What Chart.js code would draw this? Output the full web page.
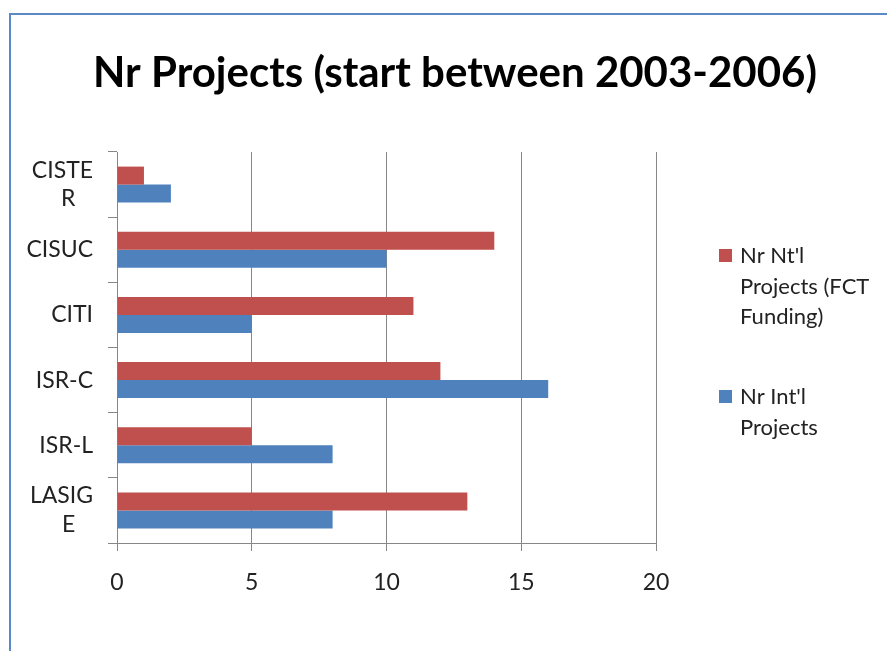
<!DOCTYPE html>
<html>
<head>
<meta charset="utf-8">
<script src="https://cdn.jsdelivr.net/npm/chart.js@4"></script>
<style>
  html, body { margin: 0; padding: 0; background: #fff; overflow: hidden; width: 887px; height: 651px; }
  #frame { position: absolute; left: 9px; top: 13px; width: 900px; height: 700px;
           border-left: 2px solid #5b88c6; border-top: 2px solid #5b88c6; }
  #chart { position: absolute; left: 9px; top: 0; }
</style>
</head>
<body>
<div id="frame"></div>
<canvas id="chart" width="892" height="651"></canvas>
<script>
// categories, top to bottom (trailing spaces keep the wrapped letter centred)
const centres = [["CISTE", "R   "], "CISUC", "CITI", "ISR-C", "ISR-L", ["LASIG", "E   "]];
const ntlProjects = [1, 14, 11, 12, 5, 13];
const intlProjects = [2, 10, 5, 16, 8, 8];
const seriesNames = ["Nr Nt'l Projects (FCT Funding)", "Nr Int'l Projects"];
// legend wraps like the original
const legendLines = [["Nr Nt'l", "Projects (FCT", "Funding)"], ["Nr Int'l", "Projects"]];
const xTicks = [0, 5, 10, 15, 20];
const titleText = "Nr Projects (start between 2003-2006)";

const gray = "#878787";
const font = "Lato, 'Open Sans', sans-serif";

// title centred on the whole chart object, legend wrapped on the right
const decorations = {
  id: "decorations",
  afterDraw(chart) {
    const ctx = chart.ctx;
    ctx.save();
    ctx.font = "bold 42px " + font;
    ctx.fillStyle = "#000";
    ctx.textAlign = "center";
    ctx.textBaseline = "alphabetic";
    ctx.fillText(titleText, 446, 87);

    const lineH = 30.5;
    const tops = [256, 397];
    ctx.font = "22px " + font;
    ctx.textAlign = "left";
    ctx.textBaseline = "middle";
    chart.data.datasets.forEach((ds, i) => {
      const y0 = tops[i];
      ctx.fillStyle = ds.backgroundColor;
      ctx.fillRect(710, y0 - 7, 13, 13);
      ctx.fillStyle = "#222";
      legendLines[i].forEach((t, j) => ctx.fillText(t, 731, y0 + j * lineH));
    });
    ctx.restore();
  }
};

new Chart(document.getElementById("chart"), {
  type: "bar",
  data: {
    labels: centres,
    datasets: [
      { label: seriesNames[0], data: ntlProjects, backgroundColor: "#c0504d" },
      { label: seriesNames[1], data: intlProjects, backgroundColor: "#4f81bd" }
    ]
  },
  options: {
    indexAxis: "y",
    responsive: false,
    animation: false,
    categoryPercentage: 0.552,
    barPercentage: 1,
    layout: { padding: { left: 0, right: 245, top: 152, bottom: 0 } },
    plugins: {
      legend: { display: false },
      tooltip: { enabled: false },
      title: { display: false }
    },
    scales: {
      x: {
        min: 0,
        max: 20,
        afterBuildTicks(scale) { scale.ticks = xTicks.map(v => ({ value: v })); },
        afterFit(scale) { scale.height = 108; },
        grid: { color: gray, lineWidth: 1, tickLength: 8 },
        border: { color: gray },
        ticks: { color: "#222", padding: 18, font: { family: font, size: 23 } }
      },
      y: {
        afterFit(scale) { scale.width = 108; },
        grid: { offset: true, drawOnChartArea: false, color: gray, tickLength: 9 },
        border: { color: gray },
        ticks: { color: "#222", padding: 15, crossAlign: "near", font: { family: font, size: 23, lineHeight: 1.25 } }
      }
    }
  },
  plugins: [decorations]
});
</script>
</body>
</html>
